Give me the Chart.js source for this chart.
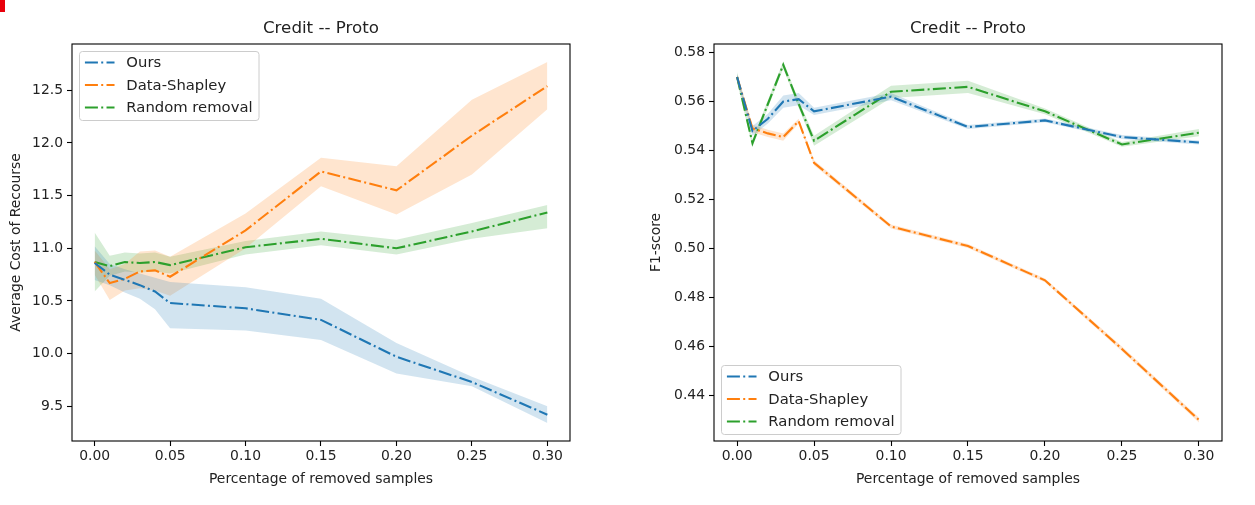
<!DOCTYPE html>
<html>
<head>
<meta charset="utf-8">
<script src="https://cdn.jsdelivr.net/npm/chart.js@4.4.1/dist/chart.umd.min.js"></script>
<style>
  html, body { margin: 0; padding: 0; background: #fff; }
  #wrap { position: relative; width: 1255px; height: 505px; overflow: hidden; }
  canvas { position: absolute; top: 0; }
  #mark { position: absolute; left: 0; top: 0; width: 5px; height: 12px; background: #e8000b; }
</style>
</head>
<body>
<div id="wrap">
  <canvas id="costChart" width="627" height="505" style="left:0"></canvas>
  <canvas id="f1Chart" width="628" height="505" style="left:627px"></canvas>
  <div id="mark"></div>
</div>
<script>
'use strict';

// Data
const REMOVED = [0, 0.01, 0.02, 0.03, 0.04, 0.05, 0.10, 0.15, 0.20, 0.25, 0.30];
const X_TICKS = [0, 0.05, 0.10, 0.15, 0.20, 0.25, 0.30];

const COST_TICKS = [9.5, 10.0, 10.5, 11.0, 11.5, 12.0, 12.5];
const COST_OURS = [10.86, 10.75, 10.70, 10.65, 10.59, 10.48, 10.43, 10.32, 9.97, 9.73, 9.42];
const COST_OURS_LO = [10.70, 10.65, 10.58, 10.52, 10.42, 10.24, 10.22, 10.13, 9.81, 9.69, 9.34];
const COST_OURS_HI = [11.02, 10.85, 10.80, 10.76, 10.72, 10.68, 10.63, 10.52, 10.10, 9.78, 9.50];
const COST_SHAP = [10.87, 10.67, 10.71, 10.78, 10.79, 10.73, 11.17, 11.73, 11.55, 12.07, 12.54];
const COST_SHAP_LO = [10.75, 10.51, 10.60, 10.62, 10.60, 10.55, 11.00, 11.59, 11.32, 11.70, 12.32];
const COST_SHAP_HI = [10.98, 10.80, 10.85, 10.97, 10.98, 10.92, 11.33, 11.86, 11.78, 12.41, 12.77];
const COST_RAND = [10.87, 10.83, 10.87, 10.86, 10.87, 10.84, 11.01, 11.09, 11.00, 11.16, 11.34];
const COST_RAND_LO = [10.59, 10.74, 10.78, 10.77, 10.78, 10.76, 10.94, 11.03, 10.94, 11.09, 11.19];
const COST_RAND_HI = [11.15, 10.93, 10.96, 10.95, 10.96, 10.92, 11.07, 11.16, 11.08, 11.24, 11.41];

const F1_TICKS = [0.44, 0.46, 0.48, 0.50, 0.52, 0.54, 0.56, 0.58];
const F1_OURS = [0.570, 0.548, 0.553, 0.560, 0.561, 0.556, 0.562, 0.5496, 0.5523, 0.5455, 0.5433];
const F1_OURS_LO = [0.5685, 0.546, 0.551, 0.5575, 0.5585, 0.5545, 0.5605, 0.5488, 0.5515, 0.5447, 0.5425];
const F1_OURS_HI = [0.5715, 0.550, 0.555, 0.5625, 0.5635, 0.5575, 0.5635, 0.5504, 0.5531, 0.5463, 0.5441];
const F1_SHAP = [0.570, 0.549, 0.547, 0.5455, 0.552, 0.535, 0.509, 0.501, 0.487, 0.459, 0.430];
const F1_SHAP_LO = [0.569, 0.5475, 0.5455, 0.544, 0.551, 0.534, 0.5082, 0.5002, 0.4862, 0.458, 0.429];
const F1_SHAP_HI = [0.571, 0.5505, 0.5485, 0.547, 0.553, 0.536, 0.5098, 0.5018, 0.4878, 0.460, 0.431];
const F1_RAND = [0.570, 0.543, 0.559, 0.575, 0.559, 0.544, 0.564, 0.566, 0.556, 0.5425, 0.5473];
const F1_RAND_LO = [0.568, 0.5415, 0.5575, 0.5735, 0.5575, 0.542, 0.5615, 0.5635, 0.5548, 0.5415, 0.5458];
const F1_RAND_HI = [0.572, 0.5445, 0.5605, 0.5765, 0.5605, 0.546, 0.5665, 0.5685, 0.5572, 0.5435, 0.5488];

const NAMES = ['Ours', 'Data-Shapley', 'Random removal'];
const COLORS = ['#1f77b4', '#ff7f0e', '#2ca02c'];
const BANDS = ['rgba(31,119,180,0.2)', 'rgba(255,127,14,0.2)', 'rgba(44,160,44,0.2)'];
const DASH = [13, 3.3, 2, 3.3];
const FONT = 'DejaVu Sans';
const INK = '#222';

Chart.defaults.font.family = FONT;
Chart.defaults.color = INK;

// Functions
let pts = (ys) => REMOVED.map((x, i) => ({x: x, y: ys[i]}));

let seriesSets = (k, mean, lo, hi) => [
    {label: NAMES[k] + ' lo', data: pts(lo), borderColor: 'transparent', borderWidth: 0,
     pointRadius: 0, fill: false, order: 2},
    {label: NAMES[k] + ' hi', data: pts(hi), borderColor: 'transparent', borderWidth: 0,
     pointRadius: 0, fill: '-1', backgroundColor: BANDS[k], order: 2},
    {label: NAMES[k], data: pts(mean), borderColor: COLORS[k], borderWidth: 2.1,
     borderDash: DASH, pointRadius: 0, fill: false, order: 1}
];

// frame, title and the matplotlib-like legend
const decor = {
    id: 'decor',
    afterDraw(chart, args, opts) {
        const ctx = chart.ctx;
        const a = chart.chartArea;
        ctx.save();
        ctx.strokeStyle = '#000';
        ctx.lineWidth = 1.1;
        ctx.setLineDash([]);
        ctx.strokeRect(a.left, a.top, a.right - a.left, a.bottom - a.top);

        ctx.fillStyle = INK;
        ctx.font = '16.7px "' + FONT + '"';
        ctx.textAlign = 'center';
        ctx.textBaseline = 'middle';
        ctx.fillText(opts.title, (a.left + a.right) / 2, 29);

        const fs = 14.8;
        ctx.font = fs + 'px "' + FONT + '"';
        let tw = 0;
        for (let n of NAMES) tw = Math.max(tw, ctx.measureText(n).width);
        const pad = 0.4 * fs;
        const hlen = 2 * fs;
        const tx = pad + hlen + 0.8 * fs;
        const w = tx + tw + pad;
        const h = 69;
        const left = a.left + 7;
        const top = opts.corner === 'upper' ? a.top + 7 : a.bottom - 7 - h;

        ctx.beginPath();
        ctx.roundRect(left + 0.5, top + 0.5, w, h, 3);
        ctx.fillStyle = 'rgba(255,255,255,0.8)';
        ctx.fill();
        ctx.strokeStyle = '#cccccc';
        ctx.lineWidth = 1;
        ctx.stroke();

        ctx.textAlign = 'left';
        NAMES.forEach((n, i) => {
            const y = top + 11.5 + i * 22.5;
            ctx.beginPath();
            ctx.setLineDash(DASH);
            ctx.strokeStyle = COLORS[i];
            ctx.lineWidth = 2.1;
            ctx.moveTo(left + pad, y);
            ctx.lineTo(left + pad + hlen, y);
            ctx.stroke();
            ctx.setLineDash([]);
            ctx.fillStyle = INK;
            ctx.fillText(n, left + tx, y + 1);
        });
        ctx.restore();
    }
};

let makeChart = (id, cfg) => {
    const tickFont = {size: 13.9};
    return new Chart(document.getElementById(id), {
        type: 'line',
        data: {
            datasets: [].concat(
                seriesSets(0, cfg.ours, cfg.oursLo, cfg.oursHi),
                seriesSets(1, cfg.shap, cfg.shapLo, cfg.shapHi),
                seriesSets(2, cfg.rand, cfg.randLo, cfg.randHi)
            )
        },
        options: {
            responsive: false,
            animation: false,
            events: [],
            layout: {padding: {top: 44, right: cfg.padRight, left: 0, bottom: 0}},
            elements: {line: {tension: 0}},
            plugins: {
                legend: {display: false},
                tooltip: {enabled: false},
                decor: {title: 'Credit -- Proto', corner: cfg.corner}
            },
            scales: {
                x: {
                    type: 'linear',
                    min: -0.015,
                    max: 0.315,
                    afterBuildTicks: (s) => { s.ticks = X_TICKS.map(v => ({value: v})); },
                    afterFit: (s) => { s.height = 64; },
                    ticks: {callback: (v) => v.toFixed(2), font: tickFont, color: INK, padding: 2, maxRotation: 0},
                    grid: {drawOnChartArea: false, tickLength: 5, color: '#000', tickWidth: 1.1},
                    border: {display: false},
                    title: {display: true, text: 'Percentage of removed samples', font: tickFont,
                            color: INK, padding: {top: 0, bottom: 17.6}}
                },
                y: {
                    type: 'linear',
                    min: cfg.yMin,
                    max: cfg.yMax,
                    afterBuildTicks: (s) => { s.ticks = cfg.ticks.map(v => ({value: v})); },
                    afterFit: (s) => { s.width = cfg.axisWidth; },
                    ticks: {callback: (v) => v.toFixed(cfg.digits), font: tickFont, color: INK, padding: 4},
                    grid: {drawOnChartArea: false, tickLength: 5, color: '#000', tickWidth: 1.1},
                    border: {display: false},
                    title: {display: true, text: cfg.yTitle, font: tickFont, color: INK,
                            padding: {top: cfg.titlePad, bottom: 0}}
                }
            }
        },
        plugins: [decor]
    });
};

window.onload = () => {
    makeChart('costChart', {
        ours: COST_OURS, oursLo: COST_OURS_LO, oursHi: COST_OURS_HI,
        shap: COST_SHAP, shapLo: COST_SHAP_LO, shapHi: COST_SHAP_HI,
        rand: COST_RAND, randLo: COST_RAND_LO, randHi: COST_RAND_HI,
        ticks: COST_TICKS, digits: 1, yMin: 9.17, yMax: 12.94,
        yTitle: 'Average Cost of Recourse', axisWidth: 72, titlePad: 7.6,
        padRight: 57, corner: 'upper'
    });
    makeChart('f1Chart', {
        ours: F1_OURS, oursLo: F1_OURS_LO, oursHi: F1_OURS_HI,
        shap: F1_SHAP, shapLo: F1_SHAP_LO, shapHi: F1_SHAP_HI,
        rand: F1_RAND, randLo: F1_RAND_LO, randHi: F1_RAND_HI,
        ticks: F1_TICKS, digits: 2, yMin: 0.4214, yMax: 0.5835,
        yTitle: 'F1-score', axisWidth: 87, titlePad: 20.6,
        padRight: 33, corner: 'lower'
    });
};
</script>
</body>
</html>
